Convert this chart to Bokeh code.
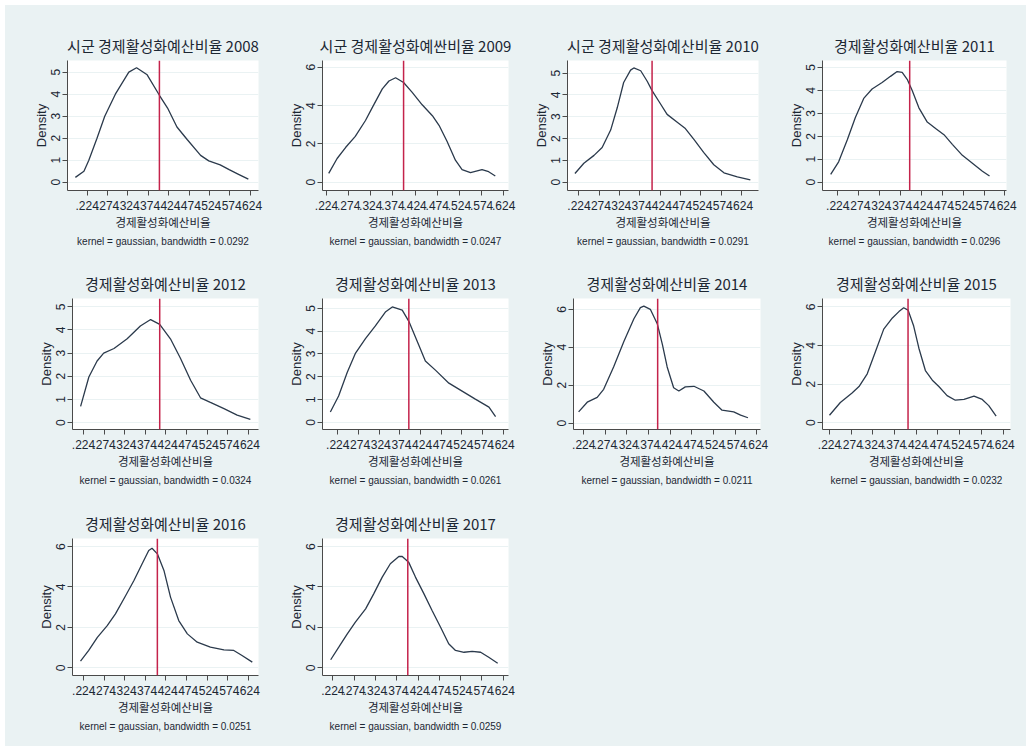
from bokeh.plotting import figure
from bokeh.layouts import column, row
from bokeh.models import FixedTicker, Span, Title, Range1d
from bokeh.embed import file_html
from bokeh.resources import INLINE

# ---------------- data ----------------
years = [2008, 2009, 2010, 2011, 2012, 2013, 2014, 2015, 2016, 2017]
titles = [
    "시군 경제활성화예산비율 2008",
    "시군 경제활성화예싼비율 2009",
    "시군 경제활성화예산비율 2010",
    "경제활성화예산비율 2011",
    "경제활성화예산비율 2012",
    "경제활성화예산비율 2013",
    "경제활성화예산비율 2014",
    "경제활성화예산비율 2015",
    "경제활성화예산비율 2016",
    "경제활성화예산비율 2017",
]
bandwidths = ["0.0292", "0.0247", "0.0291", "0.0296", "0.0324",
              "0.0261", "0.0211", "0.0232", "0.0251", "0.0259"]
means = [0.401, 0.398, 0.404, 0.396, 0.409, 0.396, 0.395, 0.405, 0.403, 0.400]
x_title = "경제활성화예산비율"
y_title = "Density"
xtick_vals = [0.224, 0.274, 0.324, 0.374, 0.424, 0.474, 0.524, 0.574, 0.624]
xtick_labels = [".224", ".274", ".324", ".374", ".424", ".474", ".524", ".574", ".624"]
yticks_five = [0, 1, 2, 3, 4, 5]
yticks_six = [0, 2, 4, 6]
yticks_kind = [5, 6, 5, 5, 5, 5, 6, 6, 6, 6]

x2008 = [0.195, 0.216, 0.228, 0.248, 0.267, 0.293, 0.326, 0.345, 0.371, 0.401, 0.421,
         0.444, 0.469, 0.502, 0.522, 0.550, 0.572, 0.595, 0.619]
d2008 = [0.22, 0.50, 1.00, 2.00, 3.00, 4.00, 5.00, 5.20, 4.88, 3.95, 3.37,
         2.51, 1.94, 1.22, 0.97, 0.79, 0.57, 0.36, 0.14]

x2009 = [0.229, 0.248, 0.267, 0.289, 0.312, 0.327, 0.350, 0.365, 0.380, 0.398, 0.417,
         0.440, 0.463, 0.478, 0.496, 0.515, 0.530, 0.549, 0.575, 0.590, 0.605]
d2009 = [0.46, 1.24, 1.81, 2.39, 3.22, 3.88, 4.87, 5.28, 5.45, 5.20, 4.70,
         4.04, 3.47, 2.97, 2.14, 1.15, 0.66, 0.50, 0.66, 0.55, 0.33]

x2010 = [0.214, 0.236, 0.261, 0.281, 0.302, 0.318, 0.334, 0.351, 0.359, 0.376, 0.392,
         0.404, 0.421, 0.441, 0.466, 0.486, 0.507, 0.531, 0.556, 0.581, 0.614, 0.646]
d2010 = [0.40, 0.87, 1.23, 1.59, 2.39, 3.40, 4.57, 5.14, 5.24, 5.11, 4.63,
         4.20, 3.70, 3.11, 2.75, 2.46, 1.96, 1.37, 0.80, 0.43, 0.24, 0.11]

x2011 = [0.207, 0.226, 0.247, 0.266, 0.286, 0.306, 0.330, 0.350, 0.366, 0.378, 0.390,
         0.402, 0.418, 0.438, 0.458, 0.478, 0.498, 0.522, 0.546, 0.570, 0.587]
d2011 = [0.34, 0.89, 1.86, 2.82, 3.65, 4.06, 4.34, 4.61, 4.82, 4.78, 4.48,
         3.99, 3.24, 2.62, 2.34, 2.07, 1.65, 1.17, 0.83, 0.48, 0.27]

x2012 = [0.217, 0.237, 0.257, 0.273, 0.298, 0.330, 0.362, 0.387, 0.409, 0.435, 0.459,
         0.484, 0.508, 0.532, 0.565, 0.597, 0.629]
d2012 = [0.70, 1.97, 2.66, 3.00, 3.20, 3.62, 4.17, 4.45, 4.24, 3.62, 2.79,
         1.83, 1.07, 0.87, 0.60, 0.32, 0.14]

x2013 = [0.206, 0.226, 0.247, 0.267, 0.291, 0.315, 0.340, 0.356, 0.380, 0.396, 0.420,
         0.436, 0.461, 0.493, 0.525, 0.557, 0.590, 0.606]
d2013 = [0.46, 1.16, 2.20, 3.04, 3.67, 4.23, 4.85, 5.06, 4.92, 4.43, 3.39,
         2.69, 2.28, 1.72, 1.37, 1.02, 0.67, 0.25]

x2014 = [0.212, 0.232, 0.255, 0.270, 0.293, 0.317, 0.340, 0.355, 0.363, 0.378, 0.394,
         0.406, 0.417, 0.432, 0.444, 0.459, 0.479, 0.502, 0.525, 0.544, 0.571, 0.587, 0.604]
d2014 = [0.59, 1.10, 1.35, 1.78, 2.96, 4.31, 5.50, 6.09, 6.17, 6.00, 5.24,
         4.14, 2.96, 1.86, 1.69, 1.91, 1.94, 1.69, 1.10, 0.68, 0.59, 0.42, 0.28]

x2015 = [0.224, 0.249, 0.276, 0.292, 0.311, 0.330, 0.349, 0.369, 0.384, 0.395, 0.405,
         0.418, 0.430, 0.445, 0.461, 0.476, 0.495, 0.514, 0.534, 0.557, 0.576, 0.591, 0.608]
d2015 = [0.38, 1.04, 1.54, 1.87, 2.53, 3.69, 4.85, 5.43, 5.76, 5.96, 5.84,
         5.01, 3.86, 2.70, 2.20, 1.87, 1.40, 1.16, 1.20, 1.37, 1.20, 0.88, 0.33]

x2016 = [0.216, 0.236, 0.257, 0.281, 0.301, 0.326, 0.346, 0.366, 0.382, 0.390, 0.403,
         0.419, 0.435, 0.455, 0.476, 0.500, 0.532, 0.565, 0.589, 0.609, 0.634]
d2016 = [0.33, 0.86, 1.51, 2.09, 2.67, 3.58, 4.32, 5.15, 5.81, 5.92, 5.64,
         4.82, 3.50, 2.34, 1.68, 1.27, 1.02, 0.89, 0.86, 0.61, 0.28]

x2017 = [0.219, 0.238, 0.258, 0.277, 0.301, 0.320, 0.340, 0.359, 0.379, 0.387, 0.402,
         0.418, 0.438, 0.457, 0.477, 0.496, 0.512, 0.532, 0.551, 0.571, 0.590, 0.611]
d2017 = [0.40, 1.02, 1.68, 2.26, 2.92, 3.66, 4.49, 5.15, 5.51, 5.51, 5.23,
         4.49, 3.66, 2.84, 2.01, 1.19, 0.86, 0.77, 0.81, 0.77, 0.52, 0.23]

curves = [(x2008, d2008), (x2009, d2009), (x2010, d2010), (x2011, d2011),
          (x2012, d2012), (x2013, d2013), (x2014, d2014), (x2015, d2015),
          (x2016, d2016), (x2017, d2017)]

# ---------------- layout / axis extents ----------------
x_ranges = [(0.1757, 0.6439), (0.2150, 0.6348), (0.1957, 0.6661), (0.1874, 0.6276),
            (0.1973, 0.6488), (0.1870, 0.6373), (0.2002, 0.6330), (0.2079, 0.6411),
            (0.1965, 0.6491), (0.1998, 0.6364)]
y_ranges = [(-0.375, 5.53), (-0.43, 6.35), (-0.38, 5.58), (-0.36, 5.30),
            (-0.30, 5.36), (-0.31, 5.43), (-0.34, 6.57), (-0.36, 6.44),
            (-0.38, 6.40), (-0.38, 6.40)]
cell_w = [258, 255, 255, 253]
row_h = [242, 239, 260]
border_top = [55, 51, 52]
frame_h = 137
border_left = [62, 59, 49, 49, 67, 59, 55, 49, 67, 59]
border_right = [5, 10, 15, 20, 5, 10, 13, 16, 5, 10]

BG = "#EAF2F3"
LINE = "#2b3a4c"
RED = "#c4234b"
TXT = "#1c2733"
AX = "#4a4a4a"
NUM_FONT = "Liberation Sans"
KR_FONT = "Noto Sans CJK KR"

figs = []
for i, yr in enumerate(years):
    r, c = divmod(i, 4)
    xs, ds = curves[i]
    p = figure(width=cell_w[c], height=row_h[r],
               x_range=Range1d(*x_ranges[i]), y_range=Range1d(*y_ranges[i]),
               output_backend="svg", toolbar_location=None,
               min_border_left=border_left[i], min_border_right=border_right[i],
               min_border_top=border_top[r],
               min_border_bottom=row_h[r] - border_top[r] - frame_h,
               background_fill_color="white", border_fill_color=BG,
               outline_line_color=None, title=titles[i])
    p.title.align = "center"
    p.title.text_font = KR_FONT
    p.title.text_font_size = "15px"
    p.title.text_font_style = "normal"
    p.title.text_color = TXT
    p.title.standoff = 9

    # x axis
    p.xaxis.ticker = FixedTicker(ticks=xtick_vals)
    p.xaxis.major_label_overrides = {v: lab for v, lab in zip(xtick_vals, xtick_labels)}
    p.xaxis.major_label_text_font = NUM_FONT
    p.xaxis.major_label_text_font_size = "12px"
    p.xaxis.major_label_text_color = TXT
    p.xaxis.major_label_standoff = 5
    p.xaxis.axis_label = x_title
    p.xaxis.axis_label_text_font = KR_FONT
    p.xaxis.axis_label_text_font_size = "11.5px"
    p.xaxis.axis_label_text_font_style = "normal"
    p.xaxis.axis_label_text_color = TXT
    p.xaxis.axis_label_standoff = 1

    # y axis
    p.yaxis.ticker = FixedTicker(ticks=yticks_five if yticks_kind[i] == 5 else yticks_six)
    p.yaxis.major_label_orientation = "vertical"
    p.yaxis.major_label_text_font = NUM_FONT
    p.yaxis.major_label_text_font_size = "12px"
    p.yaxis.major_label_text_color = TXT
    p.yaxis.major_label_standoff = 2
    p.yaxis.axis_label = y_title
    p.yaxis.axis_label_text_font = NUM_FONT
    p.yaxis.axis_label_text_font_size = "13px"
    p.yaxis.axis_label_text_font_style = "normal"
    p.yaxis.axis_label_text_color = TXT
    p.yaxis.axis_label_standoff = 0

    for ax in (p.xaxis, p.yaxis):
        ax.axis_line_color = AX
        ax.major_tick_line_color = AX
        ax.major_tick_out = 5
        ax.major_tick_in = 0
        ax.minor_tick_line_color = None

    p.xgrid.grid_line_color = None
    p.ygrid.grid_line_color = BG
    p.ygrid.grid_line_width = 1

    p.line(xs, ds, line_color=LINE, line_width=1.3)
    p.add_layout(Span(location=means[i], dimension="height",
                      line_color=RED, line_width=1.5))

    p.add_layout(Title(text="kernel = gaussian, bandwidth = " + bandwidths[i],
                       align="center", text_font=NUM_FONT, text_font_size="10px",
                       text_font_style="normal", text_color=TXT, standoff=2),
                 "below")
    figs.append(p)

layout = column(row(*figs[0:4]), row(*figs[4:8]), row(*figs[8:10]),
                styles={"background-color": BG, "margin": "5px 0 0 5px"})

open("out.html", "w").write(file_html(layout, INLINE))
